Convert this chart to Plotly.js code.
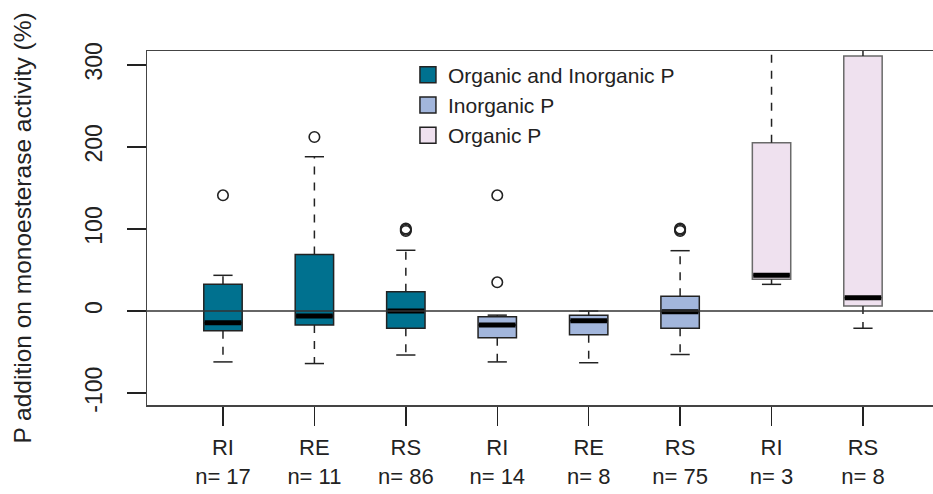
<!DOCTYPE html>
<html>
<head>
<meta charset="utf-8">
<script src="https://cdn.plot.ly/plotly-3.0.1.min.js"></script>
<style>html,body{margin:0;padding:0;background:#fff;}#chart{width:933px;height:494px;}</style>
</head>
<body>
<div id="chart"></div>
<script>
// ---- data ----
const categories = ['RI', 'RE', 'RS', 'RI', 'RE', 'RS', 'RI', 'RS'];
const counts = [17, 11, 86, 14, 8, 75, 3, 8];
const groupNames = ['Organic and Inorganic P', 'Inorganic P', 'Organic P'];
const groupOf = [0, 0, 0, 1, 1, 1, 2, 2];
const q1Values = [-24, -17, -21, -32.5, -29, -21, 38.6, 6];
const medianValues = [-14.3, -6, 0, -17, -12, -1, 43.5, 16.2];
const q3Values = [32.5, 69, 23.5, -7, -5, 18, 205, 310.7];
const lowerWhiskers = [-62, -64, -53.6, -62, -63, -53, 32.5, -21];
const upperWhiskers = [43.5, 188, 74, -5, 0, 73.5, 366, 325];
const outlierPos = [1, 2, 3, 3, 3, 4, 4, 6, 6, 6];
const outlierValues = [141, 212, 97.5, 99, 100.5, 141, 35, 97.5, 99, 100.5];
const yTickValues = [-100, 0, 100, 200, 300];

// ---- styles ----
const groupColors = ['#00718f', '#a2b6dc', '#efe1ef'];
const groupBorders = ['#222', '#222', '#6a6a6a'];
const ink = '#222';
const boxWidth = 0.42;
const capHalf = 0.105;
const FONT = 'Liberation Sans, Arial, sans-serif';

const positions = categories.map((c, i) => i + 1);
const tickText = categories.map((c, i) => c + '<br>n= ' + counts[i]);

const traces = [];
groupNames.forEach((name, g) => {
  const idx = positions.map((p, i) => i).filter(i => groupOf[i] === g);
  traces.push({
    type: 'box',
    name: name,
    showlegend: false,
    x: idx.map(i => positions[i]),
    q1: idx.map(i => q1Values[i]),
    median: idx.map(i => medianValues[i]),
    q3: idx.map(i => q3Values[i]),
    lowerfence: idx.map(i => q1Values[i]),
    upperfence: idx.map(i => q3Values[i]),
    width: boxWidth,
    whiskerwidth: 0,
    boxpoints: false,
    fillcolor: groupColors[g],
    line: {color: groupBorders[g], width: 1.5},
    hoverinfo: 'skip'
  });
});

// whiskers (dashed)
const wx = [], wy = [];
positions.forEach((p, i) => {
  wx.push(p, p, null, p, p, null);
  wy.push(q3Values[i], upperWhiskers[i], null, q1Values[i], lowerWhiskers[i], null);
});
traces.push({type: 'scatter', mode: 'lines', x: wx, y: wy, showlegend: false,
  line: {color: ink, width: 1.5, dash: '8px,8px'}, hoverinfo: 'skip'});

// staples
const cx = [], cy = [];
positions.forEach((p, i) => {
  cx.push(p - capHalf, p + capHalf, null, p - capHalf, p + capHalf, null);
  cy.push(upperWhiskers[i], upperWhiskers[i], null, lowerWhiskers[i], lowerWhiskers[i], null);
});
traces.push({type: 'scatter', mode: 'lines', x: cx, y: cy, showlegend: false,
  line: {color: ink, width: 1.5}, hoverinfo: 'skip'});

// thick medians
const mx = [], my = [];
positions.forEach((p, i) => {
  mx.push(p - boxWidth / 2 + 0.01, p + boxWidth / 2 - 0.01, null);
  my.push(medianValues[i], medianValues[i], null);
});
traces.push({type: 'scatter', mode: 'lines', x: mx, y: my, showlegend: false,
  line: {color: '#000', width: 5}, hoverinfo: 'skip'});

// outliers
traces.push({type: 'scatter', mode: 'markers', x: outlierPos, y: outlierValues, showlegend: false,
  marker: {symbol: 'circle-open', size: 10.5, color: ink, line: {width: 1.6, color: ink}}, hoverinfo: 'skip'});

// legend entries
groupNames.forEach((name, g) => {
  traces.push({type: 'scatter', mode: 'markers', name: name, x: [null], y: [null],
    marker: {symbol: 'square', size: 16, color: groupColors[g], line: {color: ink, width: 1.5}}});
});

const layout = {
  width: 933, height: 494,
  margin: {l: 147, r: 0, t: 51, b: 89},
  paper_bgcolor: '#fff', plot_bgcolor: '#fff',
  font: {family: FONT, size: 21, color: ink},
  showlegend: true,
  boxmode: 'overlay',
  legend: {x: 0.332, y: 0.99, xanchor: 'left', yanchor: 'top', bgcolor: 'rgba(0,0,0,0)',
    font: {family: FONT, size: 21, color: ink}, tracegroupgap: 0, itemclick: false},
  xaxis: {
    range: [0.169, 8.766], tickmode: 'array', tickvals: positions, ticktext: tickText,
    ticks: 'outside', ticklen: 19, tickwidth: 1.5, tickcolor: ink,
    showline: true, linecolor: '#444', linewidth: 1.5, mirror: true,
    showgrid: false, zeroline: false, ticklabelstandoff: 3,
    tickfont: {family: FONT, size: 22, color: ink}
  },
  yaxis: {
    range: [-114.5, 316.8], tickmode: 'array', tickvals: yTickValues,
    ticktext: yTickValues.map(String),
    ticks: 'outside', ticklen: 19, tickwidth: 1.5, tickcolor: ink, tickangle: -90,
    ticklabelstandoff: 15,
    showline: true, linecolor: '#444', linewidth: 1.5, mirror: false,
    showgrid: false, zeroline: false,
    tickfont: {family: FONT, size: 23, color: ink},
    title: {text: 'P addition on monoesterase activity (%)', font: {family: FONT, size: 24.5, color: ink}, standoff: 42}
  },
  shapes: [{type: 'line', xref: 'paper', x0: 0, x1: 1, yref: 'y', y0: 0, y1: 0,
    line: {color: '#333', width: 1.3}, layer: 'above'}]
};

Plotly.newPlot('chart', traces, layout, {displayModeBar: false, staticPlot: true});
</script>
</body>
</html>
